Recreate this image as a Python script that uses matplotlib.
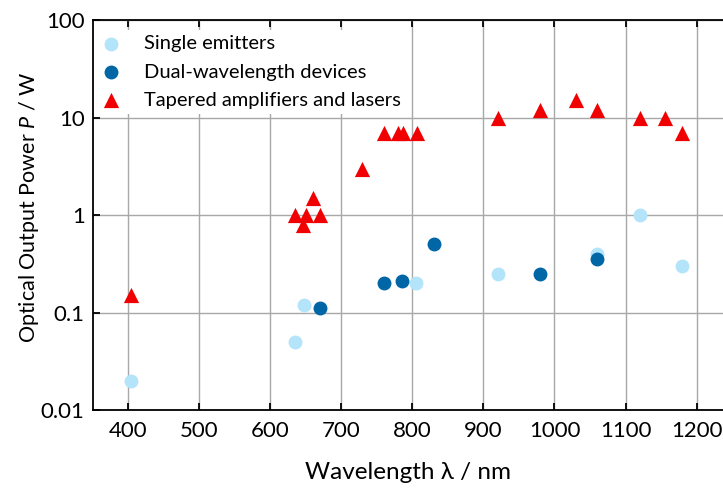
import matplotlib
matplotlib.use("Agg")
import matplotlib.pyplot as plt
from matplotlib.ticker import FixedLocator, FixedFormatter

plt.rcParams['font.family'] = ['Lato', 'DejaVu Sans']
plt.rcParams['mathtext.fontset'] = 'custom'
plt.rcParams['mathtext.it'] = 'Lato:italic'
plt.rcParams['mathtext.rm'] = 'Lato'

# single emitters
se_wl = [405, 635, 648, 805, 920, 1060, 1120, 1180]
se_p = [0.02, 0.05, 0.12, 0.2, 0.25, 0.4, 1.0, 0.3]

# dual-wavelength devices
dw_wl = [670, 760, 785, 830, 980, 1060]
dw_p = [0.11, 0.2, 0.21, 0.5, 0.25, 0.35]

# tapered amplifiers and lasers
ta_wl = [405, 635, 647, 650, 660, 670, 730, 760, 780, 787, 806,
         920, 980, 1030, 1060, 1120, 1155, 1180]
ta_p = [0.15, 1.0, 0.8, 1.0, 1.5, 1.0, 3.0, 7.0, 7.0, 7.0, 7.0,
        10.0, 12.0, 15.0, 12.0, 10.0, 10.0, 7.0]

y_ticks = [0.01, 0.1, 1, 10, 100]
y_labels = ['0.01', '0.1', '1', '10', '100']
x_ticks = [400, 500, 600, 700, 800, 900, 1000, 1100, 1200]

fig = plt.figure(figsize=(7.23, 4.91), dpi=100)
ax = fig.add_axes([0.1286, 0.165, 0.8714, 0.794])

ax.scatter(se_wl, se_p, s=100, color='#b3e4fa', marker='o', linewidths=0,
           label='Single emitters', zorder=3)
ax.scatter(dw_wl, dw_p, s=100, color='#0066a6', marker='o', linewidths=0,
           label='Dual-wavelength devices', zorder=3)
ax.scatter(ta_wl, ta_p, s=120, color='#f00000', marker='^', linewidths=0,
           label='Tapered amplifiers and lasers', zorder=4)

ax.set_yscale('log')
ax.set_xlim(351, 1237)
ax.set_ylim(0.01, 100)
ax.yaxis.set_major_locator(FixedLocator(y_ticks))
ax.yaxis.set_major_formatter(FixedFormatter(y_labels))
ax.yaxis.set_minor_locator(FixedLocator([]))
ax.set_xticks(x_ticks)

ax.grid(True, color='#a8a8a8', linewidth=1.0)
ax.set_axisbelow(True)
ax.spines['right'].set_visible(False)
for s in ['left', 'bottom', 'top']:
    ax.spines[s].set_linewidth(1.3)
ax.tick_params(direction='in', length=5, width=1.3, labelsize=16,
               top=True, right=False, pad=8)
ax.tick_params(axis='y', pad=6)

ax.set_xlabel('Wavelength λ / nm', fontsize=17.5, labelpad=15)
ax.set_ylabel('Optical Output Power $P$ / W', fontsize=15.5)
ax.yaxis.set_label_coords(-0.083, 0.52)

leg = ax.legend(loc='upper left', bbox_to_anchor=(-0.014, 1.0), fontsize=14.5,
                frameon=True, facecolor='white', edgecolor='none', framealpha=1,
                borderaxespad=0.5, handletextpad=1.0, labelspacing=0.55,
                borderpad=0.25, scatterpoints=1, handlelength=1.2)
leg.get_frame().set_linewidth(0)

fig.savefig('out.png', dpi=100)
